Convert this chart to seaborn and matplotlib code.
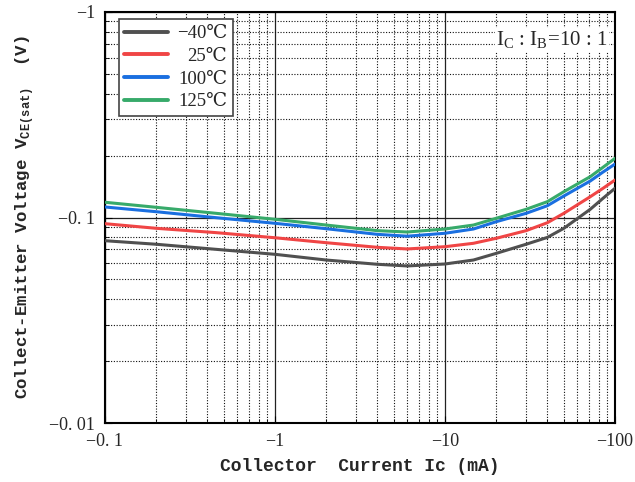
import matplotlib
matplotlib.use("Agg")
import matplotlib.pyplot as plt
import seaborn as sns
import pandas as pd
from matplotlib.ticker import LogLocator, FixedLocator, FixedFormatter, NullFormatter

# collector current (mA, magnitude) and VCE(sat) (V, magnitude)
current = [0.1, 0.2, 0.45, 1, 2, 4, 6, 10, 14.7, 20, 30, 40, 50, 71.5, 85, 100]
vce_m40 = [0.0771, 0.0741, 0.0700, 0.0662, 0.0621, 0.0592, 0.0581, 0.0594,
           0.0621, 0.0669, 0.0741, 0.0800, 0.0886, 0.1096, 0.1240, 0.1387]
vce_25 = [0.0933, 0.0886, 0.0844, 0.0797, 0.0754, 0.0716, 0.0703, 0.0721,
          0.0749, 0.0792, 0.0863, 0.0943, 0.1048, 0.1262, 0.1387, 0.1522]
vce_100 = [0.1125, 0.1067, 0.0998, 0.0937, 0.0882, 0.0828, 0.0811, 0.0838,
           0.0879, 0.0954, 0.1048, 0.1141, 0.1272, 0.1505, 0.1664, 0.1820]
vce_125 = [0.1186, 0.1121, 0.1048, 0.0980, 0.0919, 0.0863, 0.0850, 0.0879,
           0.0919, 0.0991, 0.1096, 0.1194, 0.1335, 0.1580, 0.1755, 0.1940]

temps = ["\u221240\u2103", "25\u2103", "100\u2103", "125\u2103"]
colors = ["#505050", "#f04545", "#1a6fe0", "#37aa6a"]

x_ticks = [0.1, 1, 10, 100]
x_labels = ["\u22120. 1", "\u22121", "\u221210", "\u2212100"]
y_ticks = [0.01, 0.1, 1]
y_labels = ["\u22120. 01", "\u22120. 1", "\u22121"]

frames = []
for name, vals in zip(temps, [vce_m40, vce_25, vce_100, vce_125]):
    frames.append(pd.DataFrame({"Ic": current, "Vce": vals, "temp": name}))
df = pd.concat(frames, ignore_index=True)

sns.set_style("ticks")
plt.rcParams["font.family"] = ["Liberation Serif", "DejaVu Serif", "Noto Sans CJK SC"]
plt.rcParams["mathtext.fontset"] = "custom"
plt.rcParams["mathtext.rm"] = "Liberation Serif"
plt.rcParams["mathtext.bf"] = "Liberation Mono:bold"

fig = plt.figure(figsize=(6.35, 4.82), dpi=100)
ax = fig.add_axes([105 / 635, 59 / 482, 510 / 635, 411 / 482])

sns.lineplot(data=df, x="Ic", y="Vce", hue="temp", palette=colors,
             linewidth=2.2, ax=ax, zorder=3)

ax.set_xscale("log")
ax.set_yscale("log")
ax.set_xlim(0.1, 100)
ax.set_ylim(0.01, 1)

ax.xaxis.set_major_locator(FixedLocator(x_ticks))
ax.xaxis.set_major_formatter(FixedFormatter(x_labels))
ax.yaxis.set_major_locator(FixedLocator(y_ticks))
ax.yaxis.set_major_formatter(FixedFormatter(y_labels))
ax.xaxis.set_minor_locator(LogLocator(base=10, subs=range(2, 10)))
ax.yaxis.set_minor_locator(LogLocator(base=10, subs=range(2, 10)))
ax.xaxis.set_minor_formatter(NullFormatter())
ax.yaxis.set_minor_formatter(NullFormatter())

ax.grid(which="major", color="#222222", linestyle="-", linewidth=0.9)
ax.grid(which="minor", color="#111111", linestyle=(0, (1, 1.5)), linewidth=0.8)
ax.tick_params(which="both", direction="in", labelsize=13, color="black")
ax.tick_params(which="major", length=5, pad=7)
ax.tick_params(which="minor", length=3)
for s in ax.spines.values():
    s.set_linewidth(1.5)
    s.set_color("black")

ax.set_xlabel("Collector  Current Ic (mA)", family="Liberation Mono",
              fontweight="bold", fontsize=13, labelpad=6)
ax.set_ylabel(r"Collect-Emitter Voltage V$_{\mathbf{CE(sat)}}$  (V)",
              family="Liberation Mono", fontweight="bold", fontsize=12.5,
              labelpad=10)

ax.text(0.985, 0.932, r"I$_\mathrm{C}$ : I$_\mathrm{B}$=10 : 1", transform=ax.transAxes,
        ha="right", va="center", fontsize=15, zorder=5,
        bbox=dict(facecolor="white", edgecolor="none", pad=1))

leg = ax.legend(loc="upper left", bbox_to_anchor=(0.027, 0.982), borderaxespad=0,
                frameon=True, fancybox=False, edgecolor="#444444", framealpha=1,
                fontsize=13.5, handlelength=2.3, handletextpad=0.5,
                labelspacing=0.3, borderpad=0.3, title=None)
leg.get_frame().set_linewidth(1.2)
for line in leg.get_lines():
    line.set_linewidth(2.8)

# right-align the legend labels
fig.canvas.draw()
renderer = fig.canvas.get_renderer()
widths = [t.get_window_extent(renderer).width for t in leg.get_texts()]
for t, w in zip(leg.get_texts(), widths):
    t.set_position((max(widths) - w, 0))

fig.savefig("out.png", dpi=100)
